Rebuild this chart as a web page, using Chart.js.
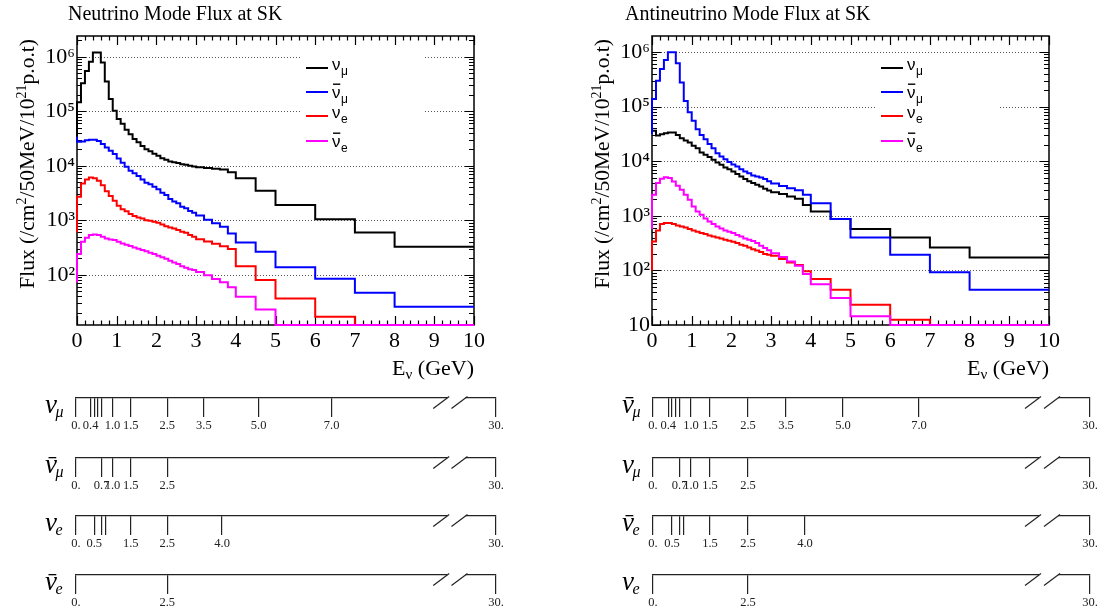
<!DOCTYPE html>
<html><head><meta charset="utf-8">
<script src="https://cdn.jsdelivr.net/npm/chart.js@4.4.0/dist/chart.umd.min.js"></script>
<style>
html,body{margin:0;padding:0;background:#fff;width:1119px;height:614px;overflow:hidden;position:relative}
canvas{position:absolute}
</style></head><body>
<canvas id="mainL" width="560" height="380" style="left:0;top:0"></canvas>
<canvas id="mainR" width="559" height="380" style="left:560px;top:0"></canvas>
<canvas id="rowL1" width="560" height="58" style="left:0;top:378px"></canvas>
<canvas id="rowL2" width="560" height="58" style="left:0;top:438px"></canvas>
<canvas id="rowL3" width="560" height="58" style="left:0;top:496px"></canvas>
<canvas id="rowL4" width="560" height="58" style="left:0;top:555px"></canvas>
<canvas id="rowR1" width="559" height="58" style="left:560px;top:378px"></canvas>
<canvas id="rowR2" width="559" height="58" style="left:560px;top:438px"></canvas>
<canvas id="rowR3" width="559" height="58" style="left:560px;top:496px"></canvas>
<canvas id="rowR4" width="559" height="58" style="left:560px;top:555px"></canvas>
<script>
// ---------------- DATA ----------------
// Energy bin edges (GeV) of the flux histograms
const energyEdges = [0,0.1,0.2,0.3,0.4,0.5,0.6,0.7,0.8,0.9,1.0,1.1,1.2,1.3,1.4,1.5,1.6,1.7,1.8,1.9,2.0,
  2.1,2.2,2.3,2.4,2.5,2.6,2.7,2.8,2.9,3.0,3.2,3.4,3.6,3.8,4.0,4.5,5.0,6,7,8,9,10];

// Neutrino mode flux at SK (/cm2/50MeV/1e21 p.o.t), one value per bin
const nuModeNumu = [3.4e4,1.46e5,3.26e5,5.5e5,8.1e5,1.2e6,1.2e6,7.8e5,3.5e5,1.68e5,1.02e5,7.2e4,5.9e4,4.6e4,3.8e4,
  3.1e4,2.7e4,2.3e4,2.0e4,1.85e4,1.66e4,1.52e4,1.38e4,1.29e4,1.2e4,1.16e4,1.12e4,1.07e4,1.04e4,1.0e4,
  9.7e3,9.4e3,9.1e3,8.8e3,8.5e3,7.6e3,5.9e3,3.47e3,1.9e3,1.05e3,600,327];
const nuModeNumubar = [3.4e4,2.75e4,2.8e4,2.95e4,3.0e4,3.0e4,2.85e4,2.5e4,2.17e4,1.88e4,1.64e4,1.36e4,1.13e4,9.6e3,8.1e3,
  7.3e3,6.5e3,5.6e3,4.9e3,4.6e3,4.1e3,3.7e3,3.2e3,2.9e3,2.45e3,2.2e3,2.05e3,1.78e3,1.66e3,1.48e3,
  1.38e3,1.22e3,1.02e3,880,760,575,393,264,137,85,47,26];
const nuModeNue = [600,2.7e3,4.75e3,5.6e3,6.1e3,5.9e3,5.3e3,4.4e3,3.4e3,2.8e3,2.28e3,1.85e3,1.6e3,1.46e3,1.3e3,
  1.2e3,1.13e3,1.08e3,1.0e3,980,935,900,840,780,740,710,660,615,590,535,
  500,450,410,370,335,296,144,80,36.9,17,0,0];
const nuModeNuebar = [72,240,404,478,535,550,535,498,465,446,433,404,377,355,336,
  318,300,284,269,254,240,224,209,197,181,169,157,144,134,126,
  123,112,98,84,73,59,39.5,23.2,0,0,0,0];

// Antineutrino mode flux at SK
const anuModeNumu = [3.6e4,3.6e4,2.95e4,3.1e4,3.25e4,3.35e4,3.35e4,3.0e4,2.64e4,2.39e4,2.2e4,1.91e4,1.73e4,1.44e4,1.31e4,
  1.19e4,1.06e4,9.45e3,8.57e3,7.66e3,7.15e3,6.47e3,5.8e3,5.25e3,4.7e3,4.3e3,3.97e3,3.69e3,3.44e3,3.12e3,
  2.9e3,2.7e3,2.5e3,2.25e3,2.05e3,1.58e3,1.2e3,871,571,402,263,173];
const anuModeNumubar = [3.12e4,1.38e5,2.98e5,4.9e5,7.1e5,9.9e5,9.9e5,6.2e5,2.75e5,1.27e5,7.9e4,5.5e4,3.86e4,3.0e4,2.53e4,
  2.07e4,1.73e4,1.4e4,1.22e4,1.09e4,9.7e3,8.7e3,7.96e3,7.1e3,6.46e3,6.0e3,5.46e3,5.25e3,5.0e3,4.7e3,
  4.3e3,3.9e3,3.5e3,3.2e3,2.95e3,2.42e3,1.7e3,871,402,194,92,44.4];
const anuModeNue = [100,339,540,705,735,735,710,665,638,611,571,540,510,482,462,
  437,419,402,385,364,349,335,316,295,283,263,245,232,217,199,
  194,186,161,140,125,96,69.5,44.4,23.5,12.5,0,0];
const anuModeNuebar = [571,2.42e3,3.97e3,4.75e3,5.1e3,4.9e3,4.25e3,3.54e3,2.99e3,2.42e3,1.96e3,1.48e3,1.2e3,1.04e3,893,
  787,705,638,587,540,510,482,443,419,385,364,344,316,283,256,
  235,205,175,145,122,85.7,56,31.3,14.4,0,0,0];

// Flavour labels / colours
const flavourSub = ['μ','μ','e','e'];
const flavourBar = [false,true,false,true];
const flavourColors = ['#000000','#0000ff','#ff0000','#ff00ff'];

// x tick labels of the flux plots
const xTickValues = [0,1,2,3,4,5,6,7,8,9,10];

// Binning diagrams (GeV): right-sign / wrong-sign muon and electron flavours
const rsMuEdges  = [0,0.4,0.5,0.6,0.7,1.0,1.5,2.5,3.5,5.0,7.0,30];
const rsMuLabels = ['0.','0.4','','','','1.0','1.5','2.5','3.5','5.0','7.0','30.'];
const wsMuEdges  = [0,0.7,1.0,1.5,2.5,30];
const wsMuLabels = ['0.','0.7','1.0','1.5','2.5','30.'];
const rsEEdges   = [0,0.5,0.7,0.8,1.5,2.5,4.0,30];
const rsELabels  = ['0.','0.5','','','1.5','2.5','4.0','30.'];
const wsEEdges   = [0,2.5,30];
const wsELabels  = ['0.','2.5','30.'];

// ---------------- helpers ----------------
const SERIF = '"Liberation Serif","DejaVu Serif",serif';
const SANS = '"Liberation Sans","DejaVu Sans",sans-serif';
Chart.defaults.font.family = SERIF;
Chart.defaults.color = '#000';

const AXIS_BREAK = 10, BREAK_SCALE = 0.075;           // compressed axis beyond the break
const axisPos = e => e <= AXIS_BREAK ? e : AXIS_BREAK + (e - AXIS_BREAK) * BREAK_SCALE;
const BREAK_MARKS = [10.0, 10.5];

function isDecade(v){ const l = Math.log10(v); return Math.abs(l - Math.round(l)) < 1e-7; }
const SUP = {'0':'⁰','1':'¹','2':'²','3':'³','4':'⁴','5':'⁵','6':'⁶','7':'⁷','8':'⁸','9':'⁹'};

function drawFlavour(ctx, x, y, k, st){
  const bar = flavourBar[k];
  const base = y + (bar ? st.barBase : st.base);
  ctx.font = st.font;
  const w = ctx.measureText('ν').width;
  ctx.fillText('ν', x, base);
  if (bar) ctx.fillRect(x + st.barIn, base - st.barH, w - st.barIn*1.2, st.barT);
  ctx.font = st.subFont;
  ctx.fillText(flavourSub[k], x + w + st.subGap, base + st.subDy);
}

const legendStyle = {font:'17px '+SANS, subFont:'12px '+SANS, base:2, barBase:5.5, barH:14, barIn:1, barT:1.4, subGap:0.5, subDy:5};

const mainPlugin = {
  id:'mainDeco',
  beforeDatasetsDraw(chart, args, o){
    const {ctx, chartArea:a, scales:{x, y}} = chart;
    ctx.save();
    // dotted decade grid
    ctx.strokeStyle = '#555'; ctx.lineWidth = 1; ctx.setLineDash([1,2]);
    for (let p = Math.ceil(Math.log10(y.min)); p <= Math.floor(Math.log10(y.max)); p++){
      const v = Math.pow(10,p); if (v <= y.min*1.001) continue;
      const py = Math.round(y.getPixelForValue(v)) + 0.5;
      ctx.beginPath(); ctx.moveTo(a.left, py); ctx.lineTo(a.right, py); ctx.stroke();
    }
    ctx.setLineDash([]);
    // legend box (white, hides the grid)
    ctx.fillStyle = '#fff';
    ctx.fillRect(a.left + 225, 54, 122, 104);
    const ly = [68, 92, 116, 141];
    for (let k = 0; k < 4; k++){
      ctx.strokeStyle = flavourColors[k]; ctx.lineWidth = 2;
      ctx.beginPath(); ctx.moveTo(a.left + 229, ly[k]); ctx.lineTo(a.left + 251, ly[k]); ctx.stroke();
      ctx.fillStyle = '#000';
      drawFlavour(ctx, a.left + 255, ly[k], k, legendStyle);
    }
    // frame
    ctx.strokeStyle = '#000'; ctx.lineWidth = 1.5;
    ctx.strokeRect(a.left, a.top, a.right - a.left, a.bottom - a.top);
    // x ticks (inward, top and bottom)
    ctx.lineWidth = 1.2;
    for (let i = 0; i <= 50; i++){
      const v = i * 0.2; const px = Math.round(x.getPixelForValue(v)) + 0.5;
      const len = (i % 5 === 0) ? 9 : 4.5;
      ctx.beginPath(); ctx.moveTo(px, a.bottom); ctx.lineTo(px, a.bottom - len);
      ctx.moveTo(px, a.top); ctx.lineTo(px, a.top + len); ctx.stroke();
    }
    // y ticks (log, inward, left and right)
    for (let p = Math.floor(Math.log10(y.min)); p <= Math.ceil(Math.log10(y.max)); p++){
      for (let m = 1; m <= 9; m++){
        const v = m * Math.pow(10,p);
        if (v < y.min || v > y.max) continue;
        const py = Math.round(y.getPixelForValue(v)) + 0.5;
        const len = m === 1 ? 9 : 5;
        ctx.beginPath(); ctx.moveTo(a.left, py); ctx.lineTo(a.left + len, py);
        ctx.moveTo(a.right, py); ctx.lineTo(a.right - len, py); ctx.stroke();
      }
    }
    ctx.restore();
  },
  afterDraw(chart, args, o){
    const {ctx, chartArea:a} = chart;
    ctx.save();
    ctx.fillStyle = '#000';
    ctx.font = '20px ' + SERIF; ctx.textBaseline = 'alphabetic';
    ctx.fillText(o.title, o.titleX, 20);
    // y title (rotated)
    const parts = [['Flux (/cm',0],['2',1],['/50MeV/10',0],['21',1],['p.o.t)',0]];
    const fN = '21.5px ' + SERIF, fS = '14px ' + SERIF;
    let W = 0;
    for (const [t,s] of parts){ ctx.font = s ? fS : fN; W += ctx.measureText(t).width; }
    ctx.translate(a.left - 50, 39); ctx.rotate(-Math.PI/2);
    let cx = -W;
    for (const [t,s] of parts){
      ctx.font = s ? fS : fN;
      ctx.fillText(t, cx, s ? -1 : 7);
      cx += ctx.measureText(t).width;
    }
    ctx.setTransform(1,0,0,1,0,0);
    // x title  E_nu (GeV)
    const xp = [['E', '22px '+SERIF, 0], ['ν', '15px '+SERIF, 4], [' (GeV)', '22px '+SERIF, 0]];
    let XW = 0;
    for (const [t,f] of xp){ ctx.font = f; XW += ctx.measureText(t).width; }
    let xx = a.right - XW;
    for (const [t,f,d] of xp){ ctx.font = f; ctx.fillText(t, xx, 375 + d); xx += ctx.measureText(t).width; }
    ctx.restore();
  }
};

function makeMain(id, p){
  const datasets = p.series.map((vals, k) => {
    const pts = vals.map((v, i) => ({x: energyEdges[i], y: v > 0 ? v : p.yMin}));
    const last = vals[vals.length - 1];
    pts.push({x: energyEdges[energyEdges.length - 1], y: last > 0 ? last : p.yMin});
    return {label: 'ν' + flavourSub[k], data: pts, borderColor: flavourColors[k], borderWidth: 2,
      stepped: 'after', pointRadius: 0, fill: false, tension: 0, order: 4 - k, clip: 3};
  });
  return new Chart(document.getElementById(id), {
    type: 'line',
    data: {datasets},
    options: {
      responsive: false, animation: false, devicePixelRatio: 1,
      layout: {padding: {left: 0, right: p.padRight, top: 36, bottom: 0}},
      parsing: false,
      scales: {
        x: {type: 'linear', min: 0, max: 10,
          afterBuildTicks: s => { s.ticks = xTickValues.map(v => ({value: v})); },
          afterFit: s => { s.height = 55; },
          grid: {display: false}, border: {display: false},
          ticks: {autoSkip: false, maxRotation: 0, padding: -5, font: {size: 22, family: SERIF}, color: '#000'}},
        y: {type: 'logarithmic', min: p.yMin, max: p.yMax,
          afterFit: s => { s.width = p.yAxisWidth; },
          grid: {display: false, drawTicks: false}, border: {display: false},
          ticks: {autoSkip: false, padding: 2, font: {size: 22, family: SERIF}, color: '#000',
            callback: v => {
              if (!isDecade(v)) return '';
              const e = Math.round(Math.log10(v));
              if (e === 0) return '1';
              if (e === 1) return '10';
              return '10' + String(e).split('').map(c => SUP[c]).join('');
            }}}
      },
      plugins: {legend: {display: false}, tooltip: {enabled: false}, title: {display: false},
        mainDeco: {title: p.title, titleX: p.titleX}}
    },
    plugins: [mainPlugin]
  });
}

makeMain('mainL', {title: 'Neutrino Mode Flux at SK', titleX: 68, yMin: 12, yMax: 2.4e6, yAxisWidth: 77, padRight: 86,
  series: [nuModeNumu, nuModeNumubar, nuModeNue, nuModeNuebar]});
makeMain('mainR', {title: 'Antineutrino Mode Flux at SK', titleX: 65, yMin: 10, yMax: 1.96e6, yAxisWidth: 92, padRight: 70,
  series: [anuModeNumu, anuModeNumubar, anuModeNue, anuModeNuebar]});

// ---------------- binning diagrams ----------------
const rowLabelStyle = {font:'italic 27px '+SERIF, subFont:'italic 16px '+SERIF, base:15, barBase:15, barH:16, barIn:3.5, barT:1.3, subGap:-1.5, subDy:4};

const rowPlugin = {
  id: 'rowDeco',
  afterDraw(chart, args, o){
    const {ctx, chartArea: a, scales: {x}} = chart;
    const ly = a.bottom;
    ctx.save();
    const c1 = x.getPixelForValue(BREAK_MARKS[0]), c2 = x.getPixelForValue(BREAK_MARKS[1]);
    ctx.fillStyle = '#fff';
    ctx.fillRect(c1 + 6, ly - 2, (c2 - c1), 4);
    ctx.strokeStyle = '#222'; ctx.lineWidth = 1.2;
    for (const c of [c1, c2]){
      ctx.beginPath(); ctx.moveTo(c - 8, ly + 10.5); ctx.lineTo(c + 8, ly - 1.5); ctx.stroke();
    }
    ctx.fillStyle = '#000';
    drawFlavour(ctx, a.left - 31, ly, o.flavour, rowLabelStyle);
    ctx.restore();
  }
};

function makeRow(id, edges, labels, flavour, padLeft, padRight){
  return new Chart(document.getElementById(id), {
    type: 'scatter',
    data: {datasets: []},
    options: {
      responsive: false, animation: false, devicePixelRatio: 1,
      layout: {padding: {left: padLeft, right: padRight, top: 0, bottom: 0}},
      scales: {
        x: {type: 'linear', min: 0, max: axisPos(30),
          afterBuildTicks: s => { s.ticks = edges.map(e => ({value: axisPos(e)})); },
          afterFit: s => { s.height = 38; },
          grid: {drawOnChartArea: false, drawTicks: true, tickLength: 19, color: '#222', lineWidth: 1.2},
          border: {display: true, color: '#222', width: 1.2},
          ticks: {autoSkip: false, maxRotation: 0, minRotation: 0, padding: 1, color: '#222',
            font: {size: 12.5, family: SERIF}, callback: (v, i) => labels[i]}},
        y: {display: false, min: 0, max: 1}
      },
      plugins: {legend: {display: false}, tooltip: {enabled: false}, rowDeco: {flavour}}
    },
    plugins: [rowPlugin]
  });
}

// left (neutrino mode): numu, numubar, nue, nuebar
makeRow('rowL1', rsMuEdges, rsMuLabels, 0, 76, 64);
makeRow('rowL2', wsMuEdges, wsMuLabels, 1, 76, 64);
makeRow('rowL3', rsEEdges, rsELabels, 2, 76, 64);
makeRow('rowL4', wsEEdges, wsELabels, 3, 76, 64);
// right (antineutrino mode): numubar, numu, nuebar, nue
makeRow('rowR1', rsMuEdges, rsMuLabels, 1, 93, 29);
makeRow('rowR2', wsMuEdges, wsMuLabels, 0, 93, 29);
makeRow('rowR3', rsEEdges, rsELabels, 3, 93, 29);
makeRow('rowR4', wsEEdges, wsELabels, 2, 93, 29);
</script>
</body></html>
